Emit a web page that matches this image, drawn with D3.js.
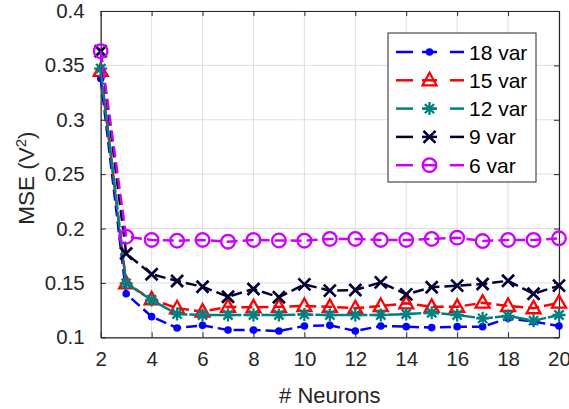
<!DOCTYPE html>
<html>
<head>
<meta charset="utf-8">
<script src="https://cdn.jsdelivr.net/npm/d3@7"></script>
<style>
  html, body { margin: 0; padding: 0; background: #fff; }
  svg { display: block; font-family: "Liberation Sans", Arial, Helvetica, sans-serif; }
</style>
</head>
<body>
<svg id="chart" width="569" height="409"></svg>
<script>
// Number of neurons in the hidden layer
const neurons = [2, 3, 4, 5, 6, 7, 8, 9, 10, 11, 12, 13, 14, 15, 16, 17, 18, 19, 20];

// MSE for each input-variable set
const mse18 = [0.338, 0.140, 0.119, 0.1086, 0.111, 0.1067, 0.1067, 0.1058, 0.1104, 0.111, 0.1058, 0.1104, 0.1098, 0.1089, 0.1098, 0.1098, 0.1174, 0.1144, 0.1104];
const mse15 = [0.345, 0.1496, 0.135, 0.1267, 0.1236, 0.128, 0.1275, 0.128, 0.1288, 0.128, 0.1267, 0.1288, 0.1312, 0.128, 0.128, 0.1318, 0.1288, 0.1267, 0.1318];
const mse12 = [0.347, 0.1496, 0.1343, 0.1214, 0.1205, 0.1205, 0.1205, 0.1205, 0.121, 0.1205, 0.1205, 0.1205, 0.1214, 0.1226, 0.1205, 0.1174, 0.1196, 0.1153, 0.1205];
const mse9  = [0.363, 0.177, 0.158, 0.1518, 0.1465, 0.1373, 0.1444, 0.1368, 0.1487, 0.1429, 0.1435, 0.1505, 0.1395, 0.146, 0.1475, 0.149, 0.152, 0.140, 0.1475];
const mse6  = [0.363, 0.1925, 0.1895, 0.1888, 0.1895, 0.1879, 0.1895, 0.189, 0.1888, 0.1904, 0.1904, 0.1895, 0.1895, 0.1904, 0.1916, 0.1885, 0.1895, 0.1895, 0.191];

const seriesNames = ["18 var", "15 var", "12 var", "9 var", "6 var"];
const xTicks = [2, 4, 6, 8, 10, 12, 14, 16, 18, 20];
const yTicks = [0.1, 0.15, 0.2, 0.25, 0.3, 0.35, 0.4];

const series = [
  { name: seriesNames[0], values: mse18, color: "#0000ff", marker: "dot",      dash: "11,5" },
  { name: seriesNames[1], values: mse15, color: "#ff0000", marker: "triangle", dash: "11,5" },
  { name: seriesNames[2], values: mse12, color: "#008080", marker: "asterisk", dash: "16,2" },
  { name: seriesNames[3], values: mse9,  color: "#000033", marker: "cross",    dash: "11,5" },
  { name: seriesNames[4], values: mse6,  color: "#cc00ff", marker: "circle",   dash: "11,5" }
];

const svg = d3.select("#chart");
const margin = { left: 100.7, right: 10, top: 11, bottom: 71.7 };
const W = 569, H = 409;
const x = d3.scaleLinear().domain([2, 20]).range([margin.left, W - margin.right]);
const y = d3.scaleLinear().domain([0.1, 0.4]).range([H - margin.bottom, margin.top]);
const axisColor = "#262626";
const tickFont = 20.5;

// grid
const grid = svg.append("g");
grid.selectAll("line.gx").data(xTicks).join("line")
  .attr("x1", d => x(d)).attr("x2", d => x(d))
  .attr("y1", y(0.1)).attr("y2", y(0.4))
  .attr("stroke", "#dfdfdf").attr("stroke-width", 1);
grid.selectAll("line.gy").data(yTicks).join("line")
  .attr("x1", x(2)).attr("x2", x(20))
  .attr("y1", d => y(d)).attr("y2", d => y(d))
  .attr("stroke", "#dfdfdf").attr("stroke-width", 1);

// axes (ticks inward, box on all sides)
const fmtY = d => d3.format("")(+d.toFixed(2));
function styleAxis(g) {
  g.select(".domain").attr("stroke", axisColor).attr("stroke-width", 1.2);
  g.selectAll(".tick line").attr("stroke", axisColor).attr("stroke-width", 1);
  g.selectAll(".tick text").attr("fill", axisColor).attr("font-size", tickFont)
    .attr("font-family", "Liberation Sans, Arial, sans-serif");
}
const xAxis = svg.append("g").attr("transform", `translate(0,${y(0.1)})`)
  .call(d3.axisBottom(x).tickValues(xTicks).tickSizeInner(-5).tickSizeOuter(0).tickPadding(14).tickFormat(d3.format("d")));
styleAxis(xAxis);
const xAxisTop = svg.append("g").attr("transform", `translate(0,${y(0.4)})`)
  .call(d3.axisTop(x).tickValues(xTicks).tickSizeInner(-5).tickSizeOuter(0).tickFormat(""));
styleAxis(xAxisTop);
const yAxis = svg.append("g").attr("transform", `translate(${x(2)},0)`)
  .call(d3.axisLeft(y).tickValues(yTicks).tickSizeInner(-5).tickSizeOuter(0).tickPadding(16).tickFormat(fmtY));
styleAxis(yAxis);
const yAxisRight = svg.append("g").attr("transform", `translate(${x(20)},0)`)
  .call(d3.axisRight(y).tickValues(yTicks).tickSizeInner(-5).tickSizeOuter(0).tickFormat(""));
styleAxis(yAxisRight);

// axis titles
svg.append("text")
  .attr("x", (x(2) + x(20)) / 2).attr("y", 403)
  .attr("text-anchor", "middle").attr("font-size", 22).attr("fill", axisColor)
  .text("# Neurons");
const yl = svg.append("text")
  .attr("transform", `translate(34,${(y(0.1) + y(0.4)) / 2 + 4}) rotate(-90)`)
  .attr("text-anchor", "middle").attr("font-size", 22.5).attr("fill", axisColor);
yl.append("tspan").text("MSE (V");
yl.append("tspan").attr("font-size", 15).attr("dy", -8).text("2");
yl.append("tspan").attr("dy", 8).text(")");

// marker drawing
function drawMarker(g, type, color) {
  switch (type) {
    case "dot":
      g.append("circle").attr("r", 3.8).attr("fill", color);
      break;
    case "triangle":
      g.append("path").attr("d", "M0,-7.5 L7,5 L-7,5 Z")
        .attr("fill", "none").attr("stroke", color).attr("stroke-width", 2.3);
      break;
    case "asterisk": {
      const r = 6.5, d = r * 0.7071;
      g.append("path").attr("d", `M${-r},0L${r},0M0,${-r}L0,${r}M${-d},${-d}L${d},${d}M${-d},${d}L${d},${-d}`)
        .attr("stroke", color).attr("stroke-width", 2.3).attr("fill", "none");
      break;
    }
    case "cross": {
      const r = 6;
      g.append("path").attr("d", `M${-r},${-r}L${r},${r}M${-r},${r}L${r},${-r}`)
        .attr("stroke", color).attr("stroke-width", 2.7).attr("fill", "none");
      break;
    }
    case "circle":
      g.append("circle").attr("r", 6.8).attr("fill", "none")
        .attr("stroke", color).attr("stroke-width", 2.3);
      break;
  }
}

// series lines and markers
const line = d3.line().x((d, i) => x(neurons[i])).y(d => y(d));
const plot = svg.append("g");
series.forEach(s => {
  const g = plot.append("g");
  g.append("path").attr("d", line(s.values))
    .attr("fill", "none").attr("stroke", s.color).attr("stroke-width", 2.5)
    .attr("stroke-dasharray", s.dash);
  g.selectAll("g.m").data(s.values).join("g")
    .attr("transform", (d, i) => `translate(${x(neurons[i])},${y(d)})`)
    .each(function () { drawMarker(d3.select(this), s.marker, s.color); });
});

// legend
const lg = svg.append("g");
lg.append("rect").attr("x", 388).attr("y", 33).attr("width", 148).attr("height", 149)
  .attr("fill", "#fff").attr("stroke", axisColor).attr("stroke-width", 1);
series.forEach((s, i) => {
  const cy = 52 + i * 28.3;
  const row = lg.append("g").attr("transform", `translate(0,${cy})`);
  [[396, 413], [422, 437], [450, 464]].forEach(([a, b]) =>
    row.append("line").attr("x1", a).attr("x2", b).attr("stroke", s.color).attr("stroke-width", 2.5));
  drawMarker(row.append("g").attr("transform", "translate(429.5,0)"), s.marker, s.color);
  row.append("text").attr("x", 469).attr("y", 7.5).attr("font-size", 21).attr("fill", "#000")
    .text(s.name);
});
</script>
</body>
</html>
